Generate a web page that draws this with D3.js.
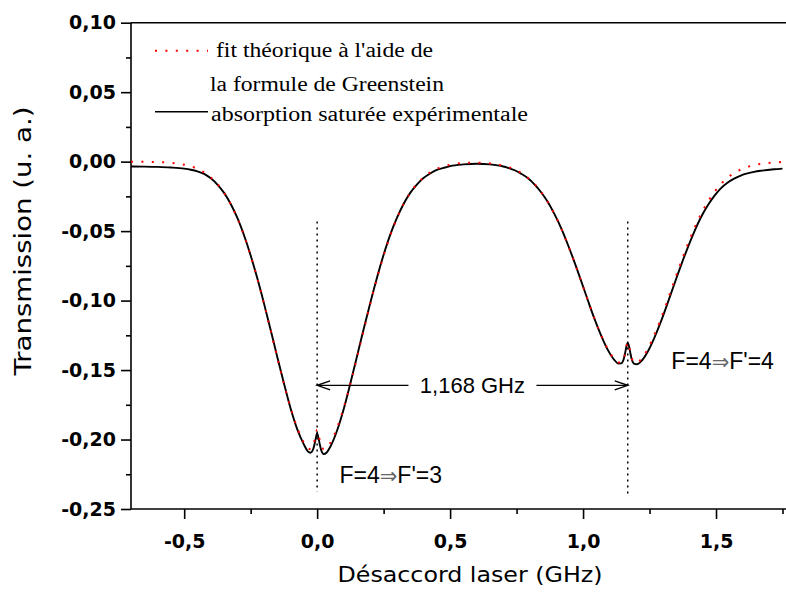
<!DOCTYPE html>
<html><head><meta charset="utf-8">
<script src="https://cdn.jsdelivr.net/npm/d3@7"></script>
<style>body{margin:0;background:#fff}svg{display:block}</style>
</head><body><svg id="c" width="786" height="594"></svg>
<script>
// ---- data ----
const detuning = [-0.7,-0.65,-0.6,-0.55,-0.5,-0.475,-0.45,-0.425,-0.4,-0.375,-0.35,-0.325,-0.3,-0.275,-0.25,-0.225,-0.2,-0.175,-0.15,-0.125,-0.1,-0.075,-0.05,-0.035,-0.025,-0.015,-0.01,-0.005,0,0.005,0.01,0.015,0.025,0.035,0.05,0.075,0.1,0.125,0.15,0.175,0.2,0.225,0.25,0.275,0.3,0.325,0.35,0.375,0.4,0.425,0.45,0.475,0.5,0.55,0.6,0.65,0.7,0.718,0.743,0.768,0.793,0.818,0.843,0.868,0.893,0.918,0.943,0.968,0.993,1.018,1.043,1.068,1.093,1.118,1.133,1.143,1.153,1.158,1.163,1.168,1.173,1.178,1.183,1.193,1.203,1.218,1.243,1.268,1.293,1.318,1.343,1.368,1.393,1.418,1.443,1.468,1.493,1.518,1.543,1.568,1.593,1.618,1.643,1.668,1.718,1.75];
const fitTransmission = [0.0000,-0.0001,-0.0003,-0.0008,-0.0022,-0.0034,-0.0052,-0.0077,-0.0113,-0.0161,-0.0224,-0.0306,-0.0408,-0.0531,-0.0676,-0.0841,-0.1022,-0.1214,-0.1409,-0.1599,-0.1770,-0.1916,-0.2023,-0.2062,-0.2069,-0.2043,-0.2008,-0.1959,-0.1930,-0.1959,-0.2008,-0.2043,-0.2069,-0.2062,-0.2023,-0.1916,-0.1770,-0.1599,-0.1409,-0.1214,-0.1022,-0.0841,-0.0676,-0.0531,-0.0408,-0.0306,-0.0224,-0.0161,-0.0113,-0.0077,-0.0052,-0.0034,-0.0023,-0.0010,-0.0007,-0.0013,-0.0029,-0.0038,-0.0057,-0.0082,-0.0117,-0.0162,-0.0221,-0.0293,-0.0380,-0.0482,-0.0599,-0.0726,-0.0860,-0.0997,-0.1130,-0.1248,-0.1349,-0.1422,-0.1446,-0.1446,-0.1416,-0.1379,-0.1329,-0.1300,-0.1329,-0.1379,-0.1416,-0.1446,-0.1446,-0.1422,-0.1349,-0.1248,-0.1130,-0.0997,-0.0860,-0.0726,-0.0599,-0.0482,-0.0380,-0.0293,-0.0221,-0.0162,-0.0117,-0.0082,-0.0057,-0.0038,-0.0025,-0.0016,-0.0006,-0.0003];
const expTransmission = [-0.0035,-0.0036,-0.0038,-0.0042,-0.0050,-0.0058,-0.0070,-0.0088,-0.0120,-0.0165,-0.0225,-0.0305,-0.0405,-0.0530,-0.0675,-0.0840,-0.1020,-0.1210,-0.1405,-0.1595,-0.1775,-0.1925,-0.2035,-0.2085,-0.2095,-0.2070,-0.2035,-0.1990,-0.1955,-0.1990,-0.2035,-0.2075,-0.2105,-0.2095,-0.2050,-0.1935,-0.1780,-0.1595,-0.1400,-0.1205,-0.1015,-0.0835,-0.0670,-0.0525,-0.0405,-0.0305,-0.0225,-0.0165,-0.0118,-0.0085,-0.0060,-0.0045,-0.0032,-0.0020,-0.0015,-0.0020,-0.0035,-0.0045,-0.0062,-0.0088,-0.0120,-0.0165,-0.0222,-0.0293,-0.0380,-0.0480,-0.0598,-0.0725,-0.0860,-0.0998,-0.1132,-0.1252,-0.1355,-0.1428,-0.1453,-0.1452,-0.1420,-0.1380,-0.1330,-0.1305,-0.1330,-0.1380,-0.1422,-0.1455,-0.1458,-0.1438,-0.1368,-0.1268,-0.1150,-0.1018,-0.0882,-0.0748,-0.0622,-0.0505,-0.0402,-0.0318,-0.0248,-0.0192,-0.0152,-0.0122,-0.0100,-0.0085,-0.0074,-0.0066,-0.0055,-0.0050];
const xTickValues = [-0.5, 0, 0.5, 1.0, 1.5];
const xMinorValues = [-0.25, 0.25, 0.75, 1.25, 1.75];
const yTickValues = [0.10, 0.05, 0, -0.05, -0.10, -0.15, -0.20, -0.25];
const yMinorValues = [0.075, 0.025, -0.025, -0.075, -0.125, -0.175, -0.225];
const transitions = [0, 1.168];
const transitionLabels = ["F=4", "F'=3", "F=4", "F'=4"];
const splittingLabel = "1,168 GHz";
const legendLabels = ["fit théorique à l'aide de", "la formule de Greenstein", "absorption saturée expérimentale"];
const xTitle = "Désaccord laser (GHz)";
const yTitle = "Transmission (u. a.)";

// ---- chart ----
const svg = d3.select("#c");
const x = d3.scaleLinear().domain([-0.7, 1.75]).range([131, 782.5]);
const y = d3.scaleLinear().domain([-0.25, 0.10]).range([509, 22.7]);
const fmtX = d => d3.format(".1f")(d).replace(".", ",").replace("−","-");
const fmtY = d => d3.format(".2f")(d).replace(".", ",").replace("−","-");
const tickFont = "'DejaVu Sans', Verdana, sans-serif";
const sans = "'Liberation Sans', Arial, sans-serif";

// frame lines
svg.append("line").attr("x1", 131).attr("x2", 786).attr("y1", y(0.10)).attr("y2", y(0.10)).attr("stroke", "#000").attr("stroke-width", 1.6);
svg.append("line").attr("x1", 131).attr("x2", 786).attr("y1", y(-0.25)).attr("y2", y(-0.25)).attr("stroke", "#000").attr("stroke-width", 1.6);
svg.append("line").attr("x1", 131).attr("x2", 131).attr("y1", y(0.10)).attr("y2", y(-0.25)).attr("stroke", "#000").attr("stroke-width", 1.6);

// x axis
const gx = svg.append("g").attr("transform", `translate(0,${y(-0.25)})`)
  .call(d3.axisBottom(x).tickValues(xTickValues).tickSize(10).tickSizeOuter(0).tickFormat(fmtX));
gx.select(".domain").remove();
gx.selectAll("line").attr("stroke-width", 1.6);
gx.selectAll("text").attr("font-family", tickFont).attr("font-weight", "bold").attr("font-size", 19).attr("dy", "1.35em").attr("fill", "#000");
const gxm = svg.append("g").attr("transform", `translate(0,${y(-0.25)})`)
  .call(d3.axisBottom(x).tickValues(xMinorValues).tickSize(5).tickSizeOuter(0).tickFormat(""));
gxm.select(".domain").remove();
gxm.selectAll("line").attr("stroke-width", 1.6);

// y axis
const gy = svg.append("g").attr("transform", `translate(${x(-0.7)},0)`)
  .call(d3.axisLeft(y).tickValues(yTickValues).tickSize(10).tickSizeOuter(0).tickFormat(fmtY));
gy.select(".domain").remove();
gy.selectAll("line").attr("stroke-width", 1.6);
gy.selectAll("text").attr("font-family", tickFont).attr("font-weight", "bold").attr("font-size", 19).attr("x", -15).attr("fill", "#000");
const gym = svg.append("g").attr("transform", `translate(${x(-0.7)},0)`)
  .call(d3.axisLeft(y).tickValues(yMinorValues).tickSize(5).tickSizeOuter(0).tickFormat(""));
gym.select(".domain").remove();
gym.selectAll("line").attr("stroke-width", 1.6);

// axis titles
svg.append("text").attr("x", 470).attr("y", 582).attr("text-anchor", "middle")
  .attr("font-family", tickFont).attr("font-size", 22)
  .attr("textLength", 265).attr("lengthAdjust", "spacingAndGlyphs").text(xTitle);
svg.append("text").attr("transform", `translate(31,241) rotate(-90)`).attr("text-anchor", "middle")
  .attr("font-family", tickFont).attr("font-size", 23)
  .attr("textLength", 269).attr("lengthAdjust", "spacingAndGlyphs").text(yTitle);

// curves
const line = d3.line().x(i => x(detuning[i])).curve(d3.curveMonotoneX);
const idx = d3.range(detuning.length);
svg.append("path").attr("d", line.y(i => y(expTransmission[i]))(idx))
  .attr("fill", "none").attr("stroke", "#000").attr("stroke-width", 1.9).attr("stroke-linejoin", "round");
svg.append("path").attr("d", line.y(i => y(fitTransmission[i]))(idx))
  .attr("fill", "none").attr("stroke", "#ff0000").attr("stroke-width", 2).attr("stroke-dasharray", "2,8.4");

// dotted transition markers
transitions.forEach((t, k) => {
  svg.append("line").attr("x1", x(t)).attr("x2", x(t))
    .attr("y1", y(-0.043)).attr("y2", y(k === 0 ? -0.2375 : -0.2405))
    .attr("stroke", "#000").attr("stroke-width", 1.5).attr("stroke-dasharray", "2,4");
});

// splitting arrow
const ay = y(-0.161);
const labelX = x((transitions[0] + transitions[1]) / 2);
svg.append("text").attr("x", labelX).attr("y", ay + 8).attr("text-anchor", "middle")
  .attr("font-family", sans).attr("font-size", 22).text(splittingLabel);
const halfW = 64;
svg.append("line").attr("x1", x(transitions[0])).attr("x2", labelX - halfW).attr("y1", ay).attr("y2", ay).attr("stroke", "#000").attr("stroke-width", 1.4);
svg.append("line").attr("x1", labelX + halfW).attr("x2", x(transitions[1])).attr("y1", ay).attr("y2", ay).attr("stroke", "#000").attr("stroke-width", 1.4);
const t0 = x(transitions[0]), t1 = x(transitions[1]);
svg.append("path").attr("d", `M${t0+13},${ay-4.5}L${t0},${ay}L${t0+13},${ay+4.5}`).attr("fill", "none").attr("stroke", "#000").attr("stroke-width", 1.4);
svg.append("path").attr("d", `M${t1-13},${ay-4.5}L${t1},${ay}L${t1-13},${ay+4.5}`).attr("fill", "none").attr("stroke", "#000").attr("stroke-width", 1.4);

// transition labels
function transLabel(xv, yv, a, b) {
  const t = svg.append("text").attr("x", x(xv)).attr("y", y(yv))
    .attr("font-family", sans).attr("font-size", 23).attr("fill", "#000");
  t.append("tspan").text(a);
  t.append("tspan").attr("fill", "#666").attr("font-family", "'DejaVu Sans', sans-serif").attr("font-size", 21).text("⇒");
  t.append("tspan").text(b);
}
transLabel(0.084, -0.2314, transitionLabels[0], transitionLabels[1]);
transLabel(1.332, -0.1493, transitionLabels[2], transitionLabels[3]);

// legend
const serif = "'Liberation Serif', 'Times New Roman', serif";
svg.append("line").attr("x1", 155).attr("x2", 208).attr("y1", 50.7).attr("y2", 50.7)
  .attr("stroke", "#ff0000").attr("stroke-width", 2).attr("stroke-dasharray", "2,8.4");
svg.append("line").attr("x1", 155).attr("x2", 208).attr("y1", 111.7).attr("y2", 111.7)
  .attr("stroke", "#000").attr("stroke-width", 1.4);
svg.append("text").attr("x", 216).attr("y", 57).attr("font-family", serif).attr("font-size", 20)
  .attr("textLength", 217).attr("lengthAdjust", "spacingAndGlyphs").text(legendLabels[0]);
svg.append("text").attr("x", 210).attr("y", 91).attr("font-family", serif).attr("font-size", 20)
  .attr("textLength", 234).attr("lengthAdjust", "spacingAndGlyphs").text(legendLabels[1]);
svg.append("text").attr("x", 211).attr("y", 121).attr("font-family", serif).attr("font-size", 20)
  .attr("textLength", 317).attr("lengthAdjust", "spacingAndGlyphs").text(legendLabels[2]);
</script></body></html>
